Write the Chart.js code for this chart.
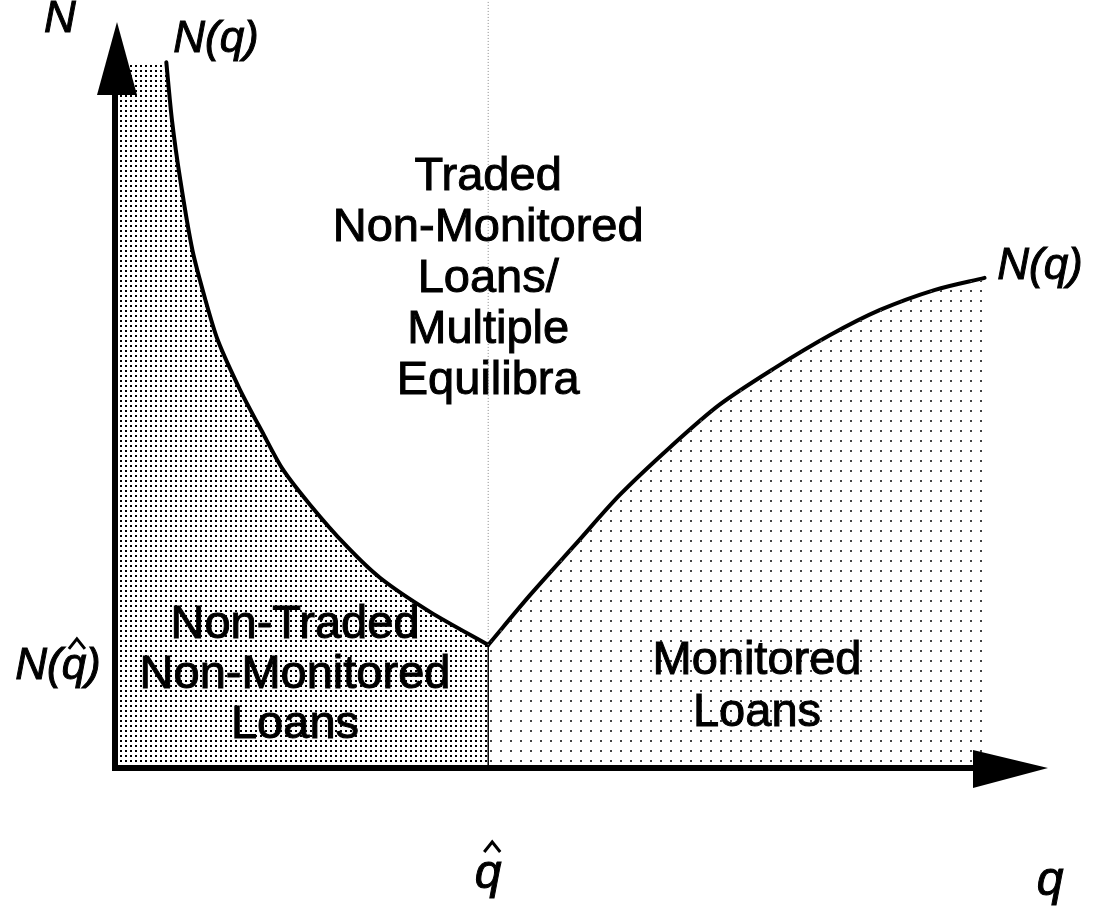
<!DOCTYPE html>
<html>
<head>
<meta charset="utf-8">
<script src="https://cdn.jsdelivr.net/npm/chart.js@4.4.1/dist/chart.umd.min.js"></script>
<style>
  html, body { margin: 0; padding: 0; background: #fff; }
  #wrap { width: 1094px; height: 923px; }
</style>
</head>
<body>
<div id="wrap"><canvas id="grafico"></canvas></div>
<script>
// Kink of the N(q) curve
const qHat = 4.0;
const nHat = 1.65;

// Left branch of N(q), falling toward the kink
const leftQ = [0.55, 0.61, 0.70, 0.83, 0.97, 1.10, 1.34, 1.58, 1.79, 2.09, 2.47, 2.84, 3.38, 4.0];
const leftN = [9.46, 8.69, 7.88, 6.94, 6.27, 5.74, 5.07, 4.50, 4.02, 3.53, 2.99, 2.55, 2.09, 1.65];

// Right branch of N(q), rising after the kink
const rightQ = [4.0, 4.45, 4.93, 5.41, 5.95, 6.48, 7.07, 7.66, 8.20, 8.79, 9.32];
const rightN = [1.65, 2.32, 2.99, 3.66, 4.30, 4.87, 5.36, 5.80, 6.14, 6.41, 6.57];

// Region texts
const middleLabel = ['Traded', 'Non-Monitored', 'Loans/', 'Multiple', 'Equilibra'];
const leftLabel = ['Non-Traded', 'Non-Monitored', 'Loans'];
const rightLabel = ['Monitored', 'Loans'];

// Axis / curve labels (the hats over q are drawn separately)
const axisN = 'N';
const axisQ = 'q';
const curveLabel = 'N(q)';

const pares = (xs, ys) => xs.map((x, i) => ({ x, y: ys[i] }));

// dotted screens used as fills
function pontilhado(passo, tam, cor) {
  const c = document.createElement('canvas');
  c.width = passo; c.height = passo;
  const g = c.getContext('2d');
  g.fillStyle = cor;
  g.fillRect(0, 0, tam, tam);
  return g.createPattern(c, 'repeat');
}
const telaDensa = pontilhado(5, 2, '#000');
const telaRala = pontilhado(10, 2, '#444');

const fonteTexto = '47px "Liberation Sans", Arial, sans-serif';
const fonteItalica = 'italic 44px "Liberation Sans", Arial, sans-serif';

// text with a thin outline, the scanned original is heavier than plain Arial
function escreve(ctx, t, x, y) {
  ctx.fillText(t, x, y);
  ctx.strokeText(t, x, y);
}

// little circumflex
function chapeu(ctx, cx, cy) {
  ctx.save();
  ctx.lineWidth = 3;
  ctx.lineJoin = 'miter';
  ctx.beginPath();
  ctx.moveTo(cx - 8, cy + 6);
  ctx.lineTo(cx, cy - 4);
  ctx.lineTo(cx + 8, cy + 6);
  ctx.stroke();
  ctx.restore();
}

// axes with arrow heads and all the texts
const desenhoExtra = {
  id: 'desenhoExtra',
  afterDatasetsDraw(chart) {
    const { ctx, scales: { x, y } } = chart;
    const x0 = x.getPixelForValue(0);
    const y0 = y.getPixelForValue(0);
    const topo = y.getPixelForValue(y.max);
    const fim = x.getPixelForValue(x.max);

    ctx.save();
    ctx.fillStyle = '#000';
    ctx.strokeStyle = '#000';
    ctx.lineWidth = 6;
    ctx.beginPath();
    ctx.moveTo(x0, y0 + 3);
    ctx.lineTo(x0, topo + 60);
    ctx.moveTo(x0 - 3, y0);
    ctx.lineTo(fim - 60, y0);
    ctx.stroke();

    // arrow heads
    ctx.beginPath();
    ctx.moveTo(x0 + 2, topo);
    ctx.lineTo(x0 - 18, topo + 73);
    ctx.lineTo(x0 + 22, topo + 73);
    ctx.closePath();
    ctx.fill();
    ctx.beginPath();
    ctx.moveTo(fim, y0);
    ctx.lineTo(fim - 75, y0 - 18);
    ctx.lineTo(fim - 75, y0 + 20);
    ctx.closePath();
    ctx.fill();

    ctx.textAlign = 'center';
    ctx.textBaseline = 'middle';
    ctx.lineWidth = 1;

    ctx.font = fonteTexto;
    const bloco = (linhas, cx, cy, passo) => {
      linhas.forEach((t, i) => escreve(ctx, t, cx, cy + i * passo));
    };
    bloco(middleLabel, x.getPixelForValue(qHat), 177, 51);
    bloco(leftLabel, 295, 625, 50);
    bloco(rightLabel, 757, 661, 52);

    ctx.font = fonteItalica;
    escreve(ctx, axisN, 60, 20);
    escreve(ctx, curveLabel, 216, 40);
    escreve(ctx, curveLabel, 1040, 267);

    // N(q^) at the kink height
    const yK = y.getPixelForValue(nHat) + 22;
    escreve(ctx, curveLabel, 58, yK);
    const wTudo = ctx.measureText(curveLabel).width;
    const wAntes = ctx.measureText('N(').width;
    const wQ = ctx.measureText('q').width;
    chapeu(ctx, 58 - wTudo / 2 + wAntes + wQ / 2 + 3, yK - 24);

    // q^ under the axis
    ctx.font = 'italic 48px "Liberation Sans", Arial, sans-serif';
    const xq = x.getPixelForValue(qHat);
    escreve(ctx, axisQ, xq, 875);
    ctx.lineWidth = 1;
    chapeu(ctx, xq + 4, 846);
    escreve(ctx, axisQ, 1050, 882);
    ctx.restore();
  }
};

const leftFill = [{ x: 0, y: leftN[0] }].concat(pares(leftQ, leftN));

new Chart(document.getElementById('grafico'), {
  type: 'scatter',
  data: {
    datasets: [
      { data: leftFill, showLine: true, fill: 'origin', backgroundColor: telaDensa,
        borderWidth: 0, pointRadius: 0, tension: 0 },
      { data: pares(rightQ, rightN), showLine: true, fill: 'origin', backgroundColor: telaRala,
        borderWidth: 0, pointRadius: 0, tension: 0.3 },
      // thin divider under the kink
      { data: [{ x: qHat, y: 0 }, { x: qHat, y: nHat }], showLine: true, borderColor: '#000',
        borderWidth: 1.5, pointRadius: 0 },
      // dotted guide above the kink
      { data: [{ x: qHat, y: nHat }, { x: qHat, y: 10.3 }], showLine: true, borderColor: '#888',
        borderWidth: 1, borderDash: [1, 2], pointRadius: 0, clip: false },
      { data: pares(leftQ, leftN), showLine: true, borderColor: '#000', borderWidth: 4,
        pointRadius: 0, tension: 0.25, borderCapStyle: 'round', borderJoinStyle: 'round' },
      { data: pares(rightQ, rightN), showLine: true, borderColor: '#000', borderWidth: 4,
        pointRadius: 0, tension: 0.3, borderCapStyle: 'round' }
    ]
  },
  options: {
    responsive: true,
    maintainAspectRatio: false,
    animation: false,
    layout: { padding: { left: 115, right: 46, top: 22, bottom: 155 } },
    plugins: { legend: { display: false }, tooltip: { enabled: false } },
    scales: {
      x: { type: 'linear', min: 0, max: 10, display: false },
      y: { type: 'linear', min: 0, max: 10, display: false }
    }
  },
  plugins: [desenhoExtra]
});
</script>
</body>
</html>
